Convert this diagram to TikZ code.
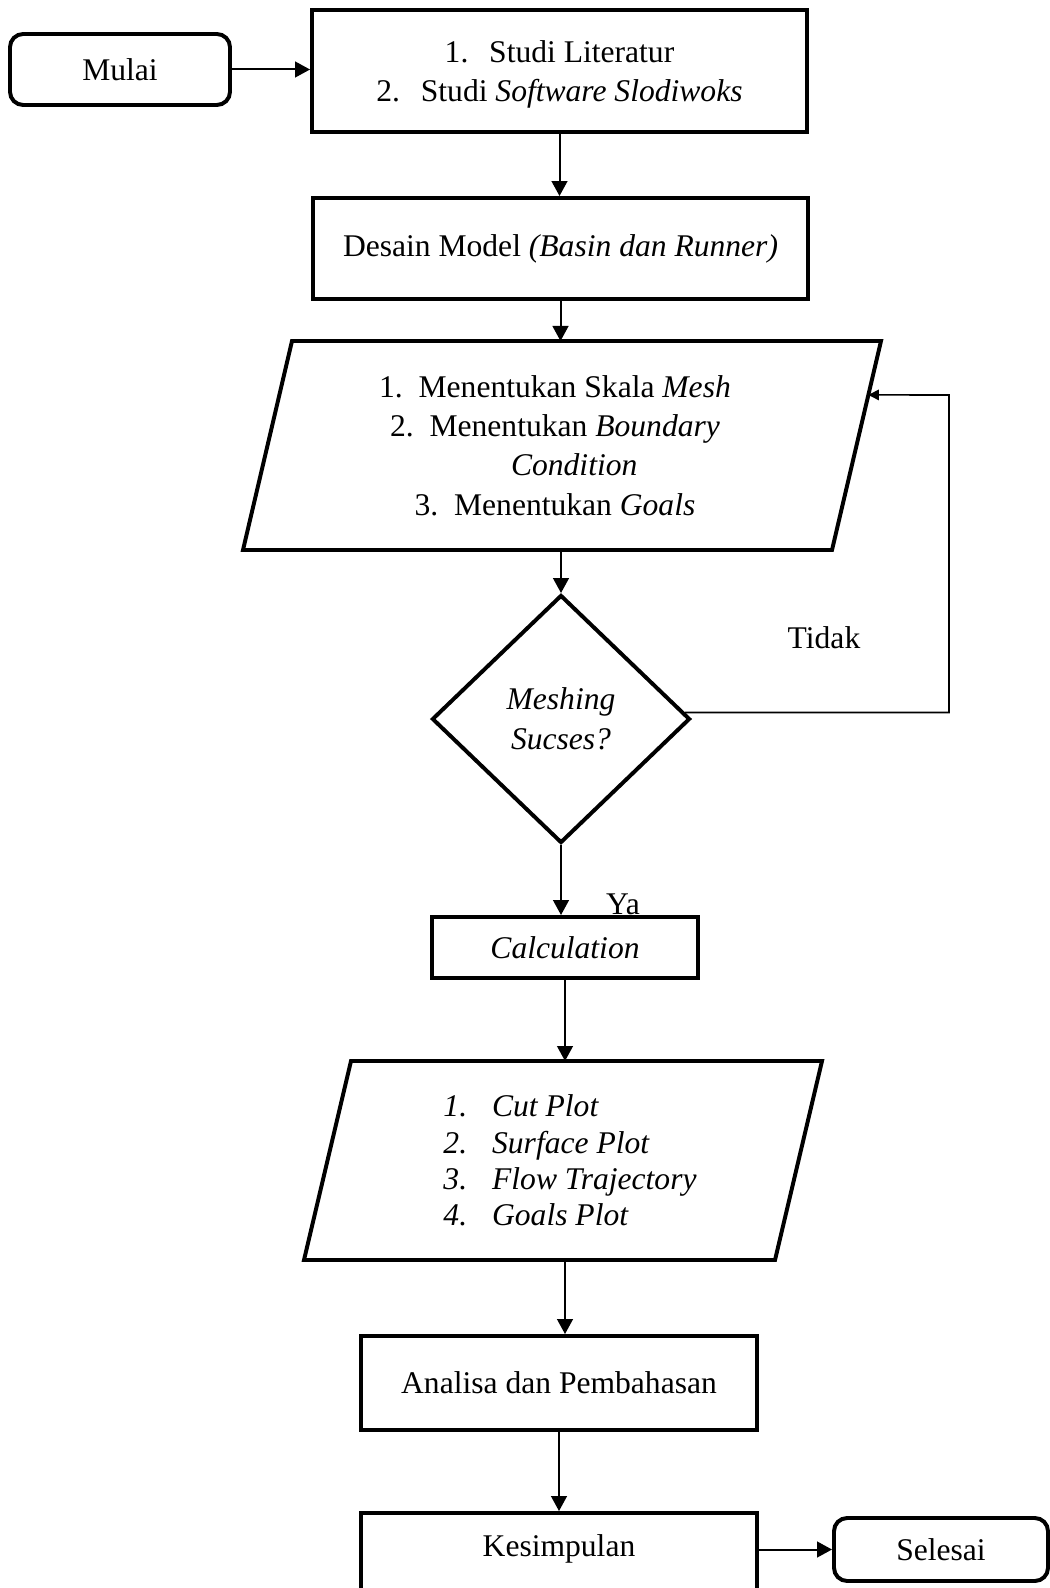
\documentclass[tikz,border=0pt]{standalone}
\usepackage{fontspec}
\setmainfont{Liberation Serif}
\usetikzlibrary{arrows.meta, calc, positioning, shapes.geometric}
\newlength\px
\setlength\px{0.38pt}

\begin{document}
\begin{tikzpicture}[x=\px, y=-\px, >={Triangle[length=5.7pt, width=6pt]},
    every node/.style={font=\fontsize{12}{15}\selectfont, inner sep=0pt, line width=1.5pt},
    term/.style={draw, rounded corners=5pt},
    proc/.style={draw},
    io/.style={outer sep=0pt, align=center},
    iobox/.style={line width=1.5pt},
    cond/.style={draw, diamond, align=center, font=\fontsize{12}{15}\selectfont\itshape},
    link/.style={->, line width=0.76pt},
    back/.style={-{Triangle[length=4pt, width=4pt]}, line width=0.6pt}]
  \useasboundingbox (0,0) rectangle (1049,1588);
  \node[term, minimum width=220\px, minimum height=71\px] (mulai) at (120,69.5) {Mulai};
  \node[proc, minimum width=495\px, minimum height=122\px, align=center,
    font=\fontsize{12}{14.6}\selectfont] (studi) at (559.5,71)
    {\rule{0pt}{11pt}1.\hspace{7.9pt}Studi Literatur\\2.\hspace{7.9pt}Studi \textit{Software Slodiwoks}};
  \node[proc, minimum width=495\px, minimum height=101\px] (desain) at (560.5,248.5)
    {Desain Model \textit{(Basin dan Runner)}};
  \node[io, minimum width=638\px, minimum height=209\px] (p1) at (555,445.5)
    {1.\hspace{0.5em}Menentukan Skala \textit{Mesh}\\2.\hspace{0.5em}Menentukan \textit{Boundary}\\
     \hspace*{14.6pt}\textit{Condition}\\3.\hspace{0.5em}Menentukan \textit{Goals}};
  \node[cond, minimum width=258\px, minimum height=248\px] (dia) at (561,719) {Meshing\\Sucses?};
  \node[proc, minimum width=266\px, minimum height=61\px, font=\fontsize{12}{15}\selectfont\itshape]
    (calculation) at (565,947.5) {Calculation};
  \node[io, align=left, minimum width=518\px, minimum height=199\px,
    font=\fontsize{12}{13.8}\selectfont\itshape] (p2) at (570,1160.5)
    {1.\hspace{9.5pt}Cut Plot\\2.\hspace{9.5pt}Surface Plot\\3.\hspace{9.5pt}Flow Trajectory\\4.\hspace{9.5pt}Goals Plot};
  \node[proc, minimum width=396\px, minimum height=94\px] (analisa) at (559,1383) {Analisa dan Pembahasan};
  \node[proc, minimum width=396\px, minimum height=117\px, align=center] (kes) at (559,1571.5) {Kesimpulan\\\strut};
  \node[term, minimum width=214\px, minimum height=63\px] (selesai) at (941,1549.5) {Selesai};
  \node[anchor=base] (tidak) at (824,648) {Tidak};
  \node[anchor=base] (ya) at (623,914) {Ya};
  \foreach \n/\s/\d in {p1/7/49, p2/-7/47}
    \draw[iobox] ([xshift=\s\px]\n.south west) -- ([xshift=\s\px-\d\px]\n.south east)
      -- ([xshift=\s\px]\n.north east) -- ([xshift=\s\px+\d\px]\n.north west) -- cycle;
  \draw[link] (mulai) -- (mulai -| studi.west);
  \foreach \a/\b/\c in {studi/desain/studi, desain/p1/desain, p1/dia/dia, dia/calculation/dia,
      calculation/p2/calculation, p2/analisa/calculation, analisa/kes/analisa}
    \draw[link] (\c |- \a.south) -- (\c |- \b.north);
  \draw[link] (kes.east |- selesai) -- (selesai);
  \coordinate (balik) at (949,395);
  \draw[back] (dia.3) -| (balik) -- ($([xshift=7\px]p1.north east)!0.258!([xshift=-42\px]p1.south east)$);
\end{tikzpicture}
\end{document}
